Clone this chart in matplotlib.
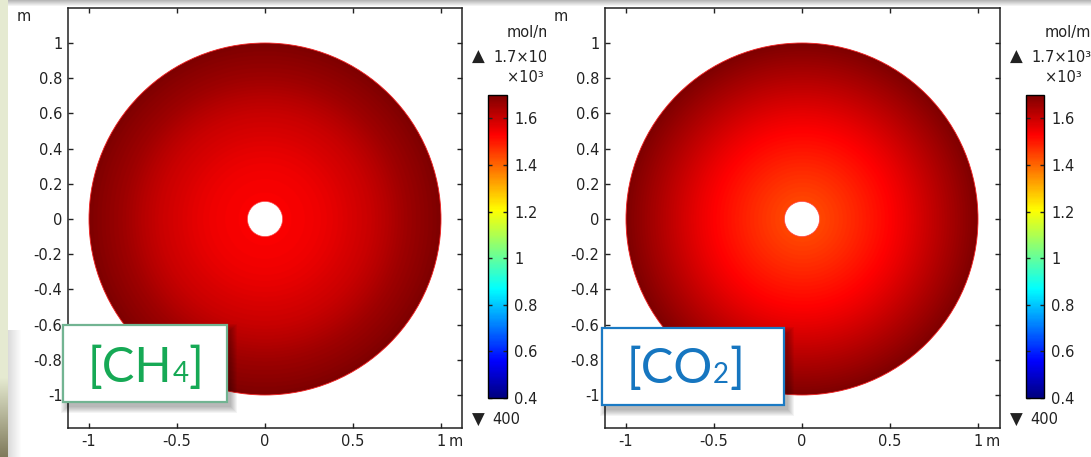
import numpy as np
import matplotlib.pyplot as plt
from matplotlib.patches import Circle, Rectangle
from matplotlib.transforms import Bbox, TransformedBbox
from matplotlib.colors import LinearSegmentedColormap, Normalize
from matplotlib import cm

W, H = 1091, 457

# radial concentration profiles across the annulus (mol/m^3)
r_profile = [0.1, 0.2, 0.3, 0.4, 0.5, 0.6, 0.7, 0.8, 0.9, 1.0]
ch4_profile = [1535, 1540, 1550, 1565, 1584, 1602, 1628, 1657, 1678, 1700]
co2_profile = [1440, 1460, 1482, 1506, 1530, 1562, 1597, 1632, 1666, 1700]
r_inner, r_outer = 0.1, 1.0

c_min, c_max = 400, 1700
cbar_ticks = [400, 600, 800, 1000, 1200, 1400, 1600]
cbar_labels = ["0.4", "0.6", "0.8", "1", "1.2", "1.4", "1.6"]

x_ticks = [-1, -0.5, 0, 0.5, 1]
x_labels = ["-1", "-0.5", "0", "0.5", "1"]
y_ticks = [-1, -0.8, -0.6, -0.4, -0.2, 0, 0.2, 0.4, 0.6, 0.8, 1]
y_labels = ["-1", "-0.8", "-0.6", "-0.4", "-0.2", "0", "0.2", "0.4", "0.6", "0.8", "1"]

names = [("[CH", "4", "]"), ("[CO", "2", "]")]
name_colors = ["#16a955", "#1676c0"]
box_edges = ["#72b492", "#1a7ac4"]

PX_PER_M = 176


def rect(x0, y0, x1, y1):
    return [x0 / W, 1 - y1 / H, (x1 - x0) / W, (y1 - y0) / H]


fig = plt.figure(figsize=(W / 100, H / 100), dpi=100)

# slide background: grey shadow along the top, greenish strip at the left
bg = np.ones((H, W, 3))
top = np.linspace(0.72, 1.0, 7)
bg[:7, :, :] = top[:, None, None]
strip = np.array([0.90, 0.92, 0.82])
bg[:, :8, :] = strip
fade = np.linspace(0.0, 1.0, H - 377)[:, None, None]
bg[377:, :8, :] = (1 - fade) * strip + fade * np.array([0.50, 0.48, 0.36])
sh = np.linspace(0.86, 1.0, 14)
bg[330:, 8:22, :] = np.minimum(bg[330:, 8:22, :], sh[None, :, None])
bg_ax = fig.add_axes([0, 0, 1, 1], zorder=-1)
bg_ax.imshow(bg, aspect="auto", extent=[0, W, H, 0])
bg_ax.axis("off")

# rainbow map: navy -> blue -> cyan -> yellow -> red -> dark red
cmap = LinearSegmentedColormap.from_list("rainbow_fem", [
    (0.0, (0.0, 0.0, 0.5)),
    (0.12, (0.0, 0.0, 1.0)),
    (0.36, (0.0, 1.0, 1.0)),
    (0.62, (1.0, 1.0, 0.0)),
    (0.87, (1.0, 0.0, 0.0)),
    (1.0, (0.5, 0.0, 0.0)),
])
norm = Normalize(c_min, c_max)

grid = np.linspace(-1, 1, 700)
gx, gy = np.meshgrid(grid, grid)
rr = np.hypot(gx, gy)

panels = [
    dict(profile=ch4_profile, ax=(68, 8, 462, 428), zero=(265, 219),
         cb=(488, 95, 507, 398), clip=546, box=(63, 325, 227, 402),
         text_x=88, base=382),
    dict(profile=co2_profile, ax=(605, 8, 1000, 428), zero=(802, 219),
         cb=(1026, 95, 1044, 398), clip=W, box=(602, 328, 784, 405),
         text_x=627, base=383),
]

renderer = fig.canvas.get_renderer()

for i, p in enumerate(panels):
    ax = fig.add_axes(rect(*p["ax"]))
    field = np.interp(rr, r_profile, p["profile"])
    im = ax.imshow(field, cmap=cmap, norm=norm, extent=[-1, 1, -1, 1],
                   origin="lower", interpolation="bilinear")
    disk = Circle((0, 0), r_outer, transform=ax.transData)
    im.set_clip_path(disk)
    ax.add_patch(Circle((0, 0), r_outer, fill=False, ec="#f02020", lw=0.6))
    ax.add_patch(Circle((0, 0), r_inner, fc="white", ec="#ff4040", lw=0.5))

    x0, y0, x1, y1 = p["ax"]
    zx, zy = p["zero"]
    ax.set_xlim((x0 - zx) / PX_PER_M, (x1 - zx) / PX_PER_M)
    ax.set_ylim((zy - y1) / PX_PER_M, (zy - y0) / PX_PER_M)
    ax.set_aspect("auto")
    ax.set_xticks(x_ticks)
    ax.set_xticklabels(x_labels)
    ax.set_yticks(y_ticks)
    ax.set_yticklabels(y_labels)
    ax.tick_params(direction="in", top=True, right=True, length=3.8, width=1,
                   labelsize=10.5, pad=4, colors="#222222")
    for s in ax.spines.values():
        s.set_linewidth(1.1)
        s.set_color("#222222")
    ax.annotate("m", xy=(1, 0), xycoords=("data", "axes fraction"),
                xytext=(8, -5.5), textcoords="offset pixels",
                ha="left", va="top", fontsize=10.5, color="#222222")
    ax.annotate("m", xy=(0, 1), xycoords="axes fraction",
                xytext=(-51, -1), textcoords="offset pixels",
                ha="left", va="top", fontsize=10.5, color="#222222")

    # colour legend
    cax = fig.add_axes(rect(*p["cb"]))
    cb = fig.colorbar(cm.ScalarMappable(norm=norm, cmap=cmap), cax=cax)
    cb.set_ticks(cbar_ticks)
    cb.set_ticklabels(cbar_labels)
    cb.outline.set_linewidth(1)
    cax.tick_params(direction="in", left=True, right=True, length=3, width=1,
                    labelsize=10.5, pad=5, colors="#222222")

    clip = TransformedBbox(Bbox.from_extents(0, 0, p["clip"] / W, 1), fig.transFigure)
    cbx = p["cb"][0]
    extra = [
        fig.text((cbx + 19) / W, 1 - 32 / H, "mol/m³", fontsize=10.5, va="center"),
        fig.text((cbx - 16) / W, 1 - 57 / H, "▲", fontsize=12, va="center"),
        fig.text((cbx + 5) / W, 1 - 57 / H, "1.7×10³", fontsize=10.5, va="center"),
        fig.text((cbx + 19) / W, 1 - 78 / H, "×10³", fontsize=10.5, va="center"),
        fig.text((cbx - 16) / W, 1 - 420 / H, "▼", fontsize=12, va="center"),
        fig.text((cbx + 4) / W, 1 - 420 / H, "400", fontsize=10.5, va="center"),
    ]
    for t in extra:
        t.set_color("#222222")
        t.set_clip_box(clip)
        t.set_clip_on(True)

    # species label with drop shadow
    bx0, by0, bx1, by1 = p["box"]
    for k in range(7):
        fig.add_artist(Rectangle(((bx0 + 4 - k) / W, 1 - (by1 + 5 + k) / H),
                                 (bx1 - bx0 + 2 * k) / W, (by1 - by0 + 2 * k) / H,
                                 transform=fig.transFigure, fc="black",
                                 ec="none", alpha=0.045, zorder=4))
    fig.add_artist(Rectangle((bx0 / W, 1 - by1 / H), (bx1 - bx0) / W, (by1 - by0) / H,
                             transform=fig.transFigure, fc="white",
                             ec=box_edges[i], lw=1.6, zorder=5))
    x = p["text_x"]
    for part, size in zip(names[i], [35, 20, 35]):
        t = fig.text(x / W, 1 - p["base"] / H, part, fontsize=size,
                     family="Lato", color=name_colors[i],
                     ha="left", va="baseline", zorder=6)
        x = t.get_window_extent(renderer).x1

fig.savefig("out.png", dpi=100)
